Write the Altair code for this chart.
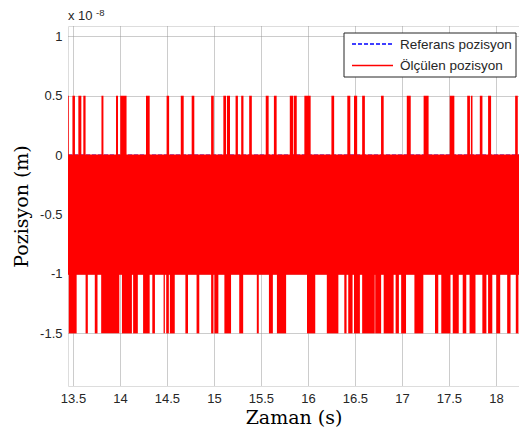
import altair as alt
import pandas as pd

# ---- axes ----
x_domain = [13.447, 18.246]
y_domain = [-1.943, 1.087]          # units of 1e-8 m
x_ticks = [13.5, 14, 14.5, 15, 15.5, 16, 16.5, 17, 17.5, 18]
y_ticks = [-1.5, -1, -0.5, 0, 0.5, 1]

series_names = ["Referans pozisyon", "Ölçülen pozisyon"]
series_colors = ["#0000ff", "#ff0000"]

# reference position (hidden under the measured signal)
reference_t = [13.447, 18.246]
reference_y = [0, 0]

# measured position: dense oscillation between 0 and -1 (x1e-8 m)
band_t = [13.447, 18.246]
band_high = [0, 0]
band_low = [-1, -1]

# excursions of the measured signal up to +0.5
up_start = [13.447, 13.494, 13.557, 13.610, 13.803, 13.958, 14.003, 14.277, 14.496, 14.647,
            14.763, 14.970, 15.100, 15.139, 15.230, 15.290, 15.375, 15.551, 15.638, 15.807,
            15.849, 15.962, 16.250, 16.419, 16.490, 16.577, 16.778, 17.052, 17.231, 17.509,
            17.695, 17.734, 17.829, 17.917, 18.205]
up_end = [13.455, 13.521, 13.589, 13.634, 13.824, 13.979, 14.070, 14.316, 14.523, 14.678,
          14.791, 14.998, 15.129, 15.171, 15.255, 15.314, 15.403, 15.582, 15.667, 15.842,
          15.881, 16.029, 16.279, 16.451, 16.524, 16.606, 16.806, 17.094, 17.284, 17.558,
          17.724, 17.751, 17.857, 17.949, 18.233]
up_level = 0.5

# excursions of the measured signal down to -1.5
down_start = [13.455, 13.634, 13.732, 13.800, 14.021, 14.140, 14.246, 14.344, 14.464, 14.492,
              14.531, 14.696, 14.815, 14.970, 15.005, 15.111, 15.269, 15.456, 15.585, 15.670,
              15.990, 16.201, 16.387, 16.429, 16.490, 16.577, 16.716, 16.806, 16.933, 16.992,
              17.133, 17.352, 17.419, 17.541, 17.647, 17.720, 17.856, 17.917, 18.004, 18.120,
              18.212]
down_end = [13.539, 13.658, 13.761, 13.993, 14.127, 14.190, 14.316, 14.372, 14.478, 14.520,
            14.583, 14.724, 14.844, 14.995, 15.047, 15.182, 15.311, 15.477, 15.627, 15.768,
            16.078, 16.324, 16.411, 16.475, 16.553, 16.711, 16.779, 16.912, 16.968, 17.044,
            17.228, 17.387, 17.517, 17.605, 17.685, 17.783, 17.899, 17.962, 18.046, 18.156,
            18.240]
down_level = -1.5

# ---- tables ----
ref_df = pd.DataFrame({"t": reference_t, "y": reference_y})
band_df = pd.DataFrame({"t": [band_t[0]], "t2": [band_t[1]], "y": [band_high[0]], "y2": [band_low[0]]})
up_df = pd.DataFrame({"t": up_start, "t2": up_end, "y": [0] * len(up_start), "y2": [up_level] * len(up_start)})
down_df = pd.DataFrame({"t": down_start, "t2": down_end, "y": [-1] * len(down_start),
                        "y2": [down_level] * len(down_start)})

FONT = "Liberation Sans"
TITLE_FONT = "DejaVu Serif"
AX = "#262626"

xs = alt.Scale(domain=x_domain, nice=False, zero=False)
ys = alt.Scale(domain=y_domain, nice=False, zero=False)

x_axis = alt.Axis(values=x_ticks, labelExpr="'' + datum.value", grid=True, domain=False, ticks=False,
                  labelFont=FONT, labelFontSize=13, labelColor=AX, labelPadding=6,
                  titleFont=TITLE_FONT, titleFontSize=19, titleFontWeight="normal", titleColor="black",
                  titlePadding=3, gridColor="#999999", gridDash=[1, 1], gridWidth=1, labelFlush=False)
y_axis = alt.Axis(values=y_ticks, labelExpr="'' + datum.value", grid=True, domain=False, ticks=False,
                  labelFont=FONT, labelFontSize=13, labelColor=AX, labelPadding=6,
                  titleFont=TITLE_FONT, titleFontSize=19, titleFontWeight="normal", titleColor="black",
                  titlePadding=8, gridColor="#999999", gridDash=[1, 1], gridWidth=1, labelFlush=False)

X = alt.X("t:Q", scale=xs, axis=x_axis, title="Zaman (s)")
Y = alt.Y("y:Q", scale=ys, axis=y_axis, title="Pozisyon (m)")

ref_layer = alt.Chart(ref_df).mark_line(color=series_colors[0], strokeDash=[4, 2], strokeWidth=1.5,
                                         clip=True).encode(x=X, y=Y)
band_layer = alt.Chart(band_df).mark_rect(color=series_colors[1], stroke=series_colors[1], strokeWidth=1.5,
                                          clip=True).encode(x=X, x2="t2:Q", y=Y, y2="y2:Q")
up_layer = alt.Chart(up_df).mark_rect(color=series_colors[1], clip=True).encode(x=X, x2="t2:Q", y=Y, y2="y2:Q")
down_layer = alt.Chart(down_df).mark_rect(color=series_colors[1], clip=True).encode(x=X, x2="t2:Q", y=Y, y2="y2:Q")

# ---- legend (manual, MATLAB style) ----
one = pd.DataFrame({"k": [0]})
leg_box = alt.Chart(one).mark_rect(fill="white", stroke=AX, strokeWidth=1).encode(
    x=alt.value(276), x2=alt.value(448), y=alt.value(7), y2=alt.value(51))
leg_ref = alt.Chart(one).mark_rule(color=series_colors[0], strokeDash=[4, 2], strokeWidth=1.5).encode(
    x=alt.value(284), x2=alt.value(325), y=alt.value(18))
leg_meas = alt.Chart(one).mark_rule(color=series_colors[1], strokeWidth=1.5).encode(
    x=alt.value(284), x2=alt.value(325), y=alt.value(39.5))
leg_t1 = alt.Chart(one).mark_text(align="left", baseline="middle", font=FONT, fontSize=13.5, color=AX,
                                  text=series_names[0]).encode(x=alt.value(332), y=alt.value(18.5))
leg_t2 = alt.Chart(one).mark_text(align="left", baseline="middle", font=FONT, fontSize=13.5, color=AX,
                                  text=series_names[1]).encode(x=alt.value(332), y=alt.value(40))

# exponent label
exp_a = alt.Chart(one).mark_text(align="left", baseline="middle", font=FONT, fontSize=13, color=AX,
                                 text="x 10").encode(x=alt.value(0), y=alt.value(-10.5))
exp_b = alt.Chart(one).mark_text(align="left", baseline="top", font=FONT, fontSize=9.5, color=AX,
                                 text="-8").encode(x=alt.value(28), y=alt.value(-18))

chart = alt.layer(ref_layer, band_layer, up_layer, down_layer, leg_box, leg_ref, leg_meas, leg_t1, leg_t2,
                  exp_a, exp_b).properties(
    width=451, height=360,
    autosize=alt.AutoSizeParams(type="none"),
    padding={"left": 60, "top": 18, "right": 0, "bottom": 45},
).configure_view(stroke=AX, strokeWidth=1).configure(background="white")

chart.save("out.html", embed_options={"renderer": "svg", "actions": False})
